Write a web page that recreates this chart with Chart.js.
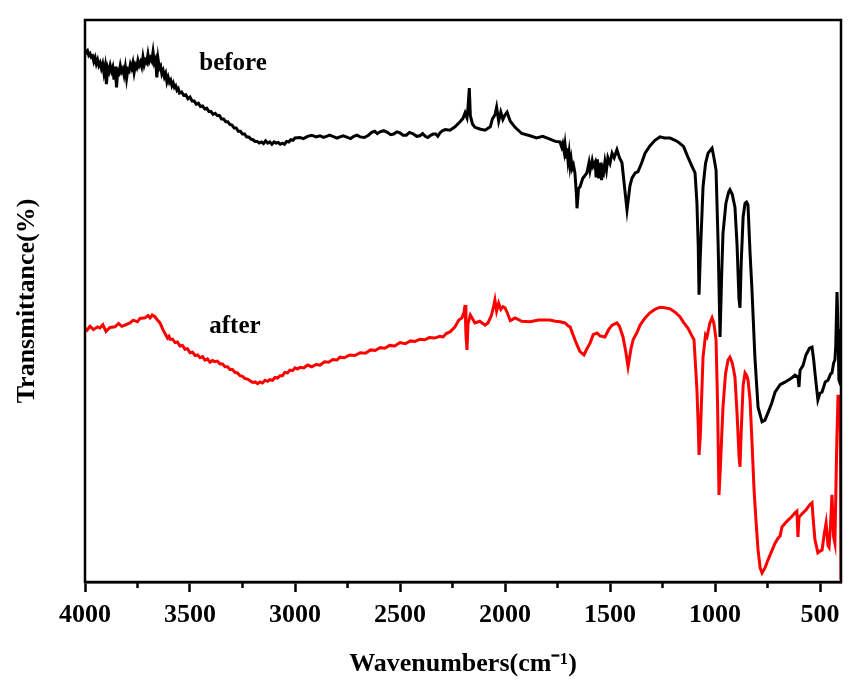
<!DOCTYPE html>
<html>
<head>
<meta charset="utf-8">
<script src="https://cdn.jsdelivr.net/npm/chart.js@4/dist/chart.umd.min.js"></script>
<style>
html,body{margin:0;padding:0;background:#fff;}
#c{display:block;}
</style>
</head>
<body>
<canvas id="c" width="856" height="684"></canvas>
<script>
// ---- data: [wavenumber (cm-1), transmittance (arbitrary % units)] ----
const beforeSpectrum = [
[4000,94.8],[3994,94.2],[3988,94.5],[3982,93.7],[3976,94.0],[3970,93.4],[3964,93.6],[3958,92.6],[3952,93.3],[3946,92.2],
[3940,92.9],[3934,91.9],[3928,92.4],[3922,91.4],[3916,92.2],[3910,90.6],[3904,91.8],[3898,88.6],[3892,91.5],[3886,90.8],
[3880,91.9],[3874,90.9],[3868,91.6],[3862,89.4],[3856,91.7],[3850,88.0],[3844,91.0],[3838,90.6],[3832,91.9],[3826,90.8],
[3820,91.3],[3814,90.2],[3808,91.6],[3802,89.6],[3796,91.2],[3790,90.9],[3784,92.1],[3778,91.4],[3772,92.4],[3766,90.7],
[3760,92.0],[3754,91.5],[3748,92.8],[3742,91.9],[3736,92.5],[3730,91.7],[3724,93.4],[3718,92.0],[3712,92.8],[3706,92.4],
[3700,93.9],[3694,92.6],[3688,93.2],[3682,92.7],[3676,94.3],[3670,92.4],[3664,93.0],[3658,89.8],[3652,93.0],[3646,91.4],
[3640,91.8],[3634,90.4],[3628,91.0],[3622,89.9],[3616,90.5],[3610,89.0],[3604,89.8],[3598,88.9],[3592,89.3],[3586,88.3],
[3580,88.8],[3574,88.0],[3568,88.3],[3562,87.5],[3556,87.8],[3550,87.0],[3540,87.2],[3530,86.6],[3520,86.7],[3510,86.0],
[3500,86.3],[3490,85.6],[3480,85.6],[3470,85.0],[3460,85.2],[3450,84.6],[3440,84.7],[3430,84.2],[3420,84.3],[3410,83.7],
[3400,83.7],[3390,83.2],[3380,83.4],[3370,83.0],[3360,83.0],[3350,82.4],[3340,82.4],[3330,81.9],[3320,81.9],[3310,81.4],
[3300,81.3],[3290,80.8],[3280,80.8],[3270,80.2],[3260,80.2],[3250,79.7],[3240,79.7],[3230,79.2],[3220,79.2],[3210,78.8],
[3200,78.7],[3190,78.4],[3180,78.4],[3170,78.1],[3160,78.3],[3150,78.0],[3140,78.5],[3130,78.1],[3120,78.3],[3110,77.9],
[3100,78.3],[3090,78.1],[3080,78.2],[3070,77.9],[3060,78.1],[3050,77.9],[3040,78.4],[3030,78.3],[3020,78.7],[3010,78.6],
[3000,79.0],[2976,79.1],[2960,78.9],[2940,79.3],[2920,79.5],[2900,79.2],[2881,79.4],[2865,79.1],[2850,79.3],[2835,79.5],
[2820,79.3],[2800,79.0],[2786,79.2],[2770,79.4],[2750,79.1],[2735,78.9],[2720,79.3],[2705,79.5],[2690,79.2],[2670,79.1],
[2650,79.5],[2635,80.0],[2620,80.2],[2608,79.8],[2595,80.1],[2578,80.3],[2560,80.0],[2545,79.6],[2530,79.7],[2515,80.1],
[2500,79.9],[2485,79.5],[2470,79.5],[2455,80.0],[2440,79.8],[2420,79.3],[2405,79.4],[2392,79.8],[2380,79.3],[2368,79.1],
[2357,79.4],[2343,79.7],[2330,79.7],[2320,79.3],[2310,79.9],[2298,80.3],[2285,80.5],[2262,80.4],[2238,81.0],[2214,81.9],
[2200,82.5],[2190,83.5],[2181,82.6],[2176,84.5],[2170,87.9],[2165,83.0],[2155,81.5],[2143,80.9],[2120,80.6],[2095,80.4],
[2070,81.0],[2060,82.4],[2048,83.1],[2040,84.5],[2030,82.0],[2020,83.6],[2010,82.3],[2000,83.1],[1990,83.6],[1975,82.0],
[1952,80.9],[1920,79.8],[1881,79.4],[1850,79.0],[1820,79.3],[1786,78.8],[1760,78.4],[1738,78.3],[1730,77.4],[1725,78.0],
[1718,76.5],[1714,77.8],[1708,75.6],[1705,77.2],[1700,75.0],[1695,76.4],[1690,74.0],[1685,75.2],[1680,73.6],[1674,74.2],
[1667,72.8],[1660,69.0],[1657,66.5],[1650,70.0],[1643,70.3],[1630,71.8],[1610,72.8],[1600,74.6],[1595,73.2],[1585,75.0],
[1580,74.0],[1571,74.7],[1566,72.0],[1560,75.2],[1554,71.8],[1548,74.6],[1540,71.5],[1535,73.6],[1530,73.0],[1524,74.8],
[1517,73.3],[1510,75.5],[1500,74.5],[1490,76.3],[1480,75.5],[1467,76.9],[1455,75.5],[1443,74.6],[1430,70.0],[1419,66.2],
[1405,70.5],[1395,71.9],[1380,72.8],[1367,73.0],[1350,74.5],[1333,76.3],[1310,77.6],[1286,78.6],[1262,79.2],[1240,79.0],
[1214,79.0],[1190,78.6],[1176,78.3],[1150,77.5],[1129,75.6],[1110,74.0],[1095,72.8],[1086,67.4],[1080,60.0],[1076,51.1],
[1070,58.0],[1057,70.3],[1045,74.5],[1033,76.3],[1014,77.2],[1005,75.5],[995,73.3],[985,60.0],[976,43.6],[968,55.0],
[962,62.0],[948,67.4],[935,69.4],[929,69.8],[918,69.0],[905,66.7],[895,60.0],[886,50.5],[881,48.8],[875,57.0],
[866,65.0],[857,67.4],[850,67.6],[843,67.1],[833,58.5],[824,52.0],[810,40.0],[795,31.1],[776,28.5],[762,28.8],
[748,30.1],[730,31.8],[714,33.8],[690,35.1],[665,35.6],[652,35.9],[635,36.3],[619,36.8],[605,36.5],[600,34.7],
[595,37.7],[581,38.5],[567,40.4],[550,41.6],[538,41.8],[530,39.5],[524,37.2],[510,32.4],[500,33.6],[490,33.8],
[475,35.6],[462,35.9],[450,37.0],[443,37.2],[435,39.0],[429,39.5],[425,42.0],[419,51.6],[414,45.0],[410,36.0],
[405,35.4],[400,35.0]
];

const afterSpectrum = [
[4000,45.2],[3990,44.8],[3976,45.5],[3960,44.9],[3940,45.4],[3929,45.2],[3915,45.8],[3900,44.6],[3881,45.3],[3857,45.4],
[3840,46.0],[3825,45.5],[3810,45.7],[3786,46.1],[3770,46.6],[3750,46.3],[3738,46.9],[3714,47.0],[3700,47.4],[3690,47.0],
[3680,47.5],[3667,47.2],[3655,46.6],[3643,46.1],[3630,45.0],[3619,44.2],[3607,43.4],[3600,43.7],[3595,43.2],[3583,43.2],
[3571,42.6],[3560,42.7],[3548,42.0],[3536,42.1],[3524,41.4],[3512,41.5],[3500,40.8],[3488,40.9],[3476,40.3],[3464,40.4],
[3452,39.9],[3440,40.1],[3429,39.5],[3417,39.7],[3405,39.1],[3393,39.4],[3381,39.2],[3369,39.3],[3357,38.8],[3345,38.8],
[3333,38.3],[3321,38.3],[3310,37.8],[3298,37.8],[3286,37.3],[3274,37.2],[3262,36.7],[3250,36.6],[3238,36.2],[3226,36.1],
[3214,35.8],[3202,35.5],[3190,35.6],[3178,35.3],[3167,35.6],[3155,35.4],[3143,35.9],[3131,35.7],[3119,36.0],[3107,35.9],
[3095,36.4],[3083,36.3],[3071,36.7],[3060,36.7],[3048,37.3],[3036,37.2],[3024,37.7],[3012,37.6],[3000,38.1],[2988,37.9],
[2976,38.2],[2958,38.1],[2940,38.6],[2920,38.3],[2900,38.7],[2881,38.6],[2860,39.2],[2840,39.1],[2820,39.6],[2800,39.5],
[2786,40.0],[2765,39.9],[2740,40.4],[2715,40.3],[2690,40.8],[2665,40.7],[2640,41.3],[2618,41.2],[2595,41.7],[2572,41.6],
[2550,42.1],[2525,42.0],[2500,42.6],[2475,42.4],[2450,42.9],[2428,42.8],[2405,43.2],[2382,43.1],[2360,43.5],[2335,43.4],
[2310,43.7],[2295,43.6],[2280,44.2],[2262,44.5],[2238,45.4],[2220,46.6],[2205,47.0],[2195,48.0],[2190,49.3],[2186,44.0],
[2181,41.3],[2176,46.0],[2165,47.5],[2143,46.1],[2120,46.4],[2095,45.7],[2081,46.1],[2065,47.4],[2055,48.9],[2048,50.2],
[2040,48.2],[2030,49.6],[2020,48.5],[2010,49.0],[2000,48.8],[1990,48.0],[1975,46.5],[1952,47.0],[1920,46.4],[1881,46.3],
[1840,46.6],[1786,46.6],[1760,46.4],[1738,46.3],[1714,46.1],[1700,45.6],[1690,45.4],[1667,43.1],[1657,42.2],[1643,41.0],
[1624,40.4],[1610,41.5],[1595,42.5],[1580,44.0],[1562,44.3],[1548,43.8],[1524,43.6],[1505,45.0],[1490,45.7],[1467,46.1],
[1455,45.5],[1438,43.6],[1425,41.0],[1414,38.3],[1400,41.5],[1390,43.1],[1370,44.5],[1357,45.7],[1333,47.0],[1310,47.9],
[1286,48.5],[1262,48.9],[1240,48.8],[1214,48.6],[1190,48.0],[1167,47.2],[1150,46.2],[1129,45.2],[1110,43.8],[1100,43.1],
[1086,34.2],[1080,28.0],[1076,22.6],[1070,26.0],[1057,40.0],[1045,44.0],[1038,43.6],[1025,46.0],[1014,47.0],[1005,46.0],
[995,43.1],[988,32.0],[981,15.5],[975,20.0],[962,31.1],[950,37.0],[938,39.5],[929,40.0],[918,39.0],[905,36.5],
[895,30.0],[885,22.0],[881,20.5],[875,27.0],[866,35.0],[857,37.2],[850,36.8],[843,36.0],[833,32.4],[824,25.0],
[814,16.4],[805,11.0],[795,5.7],[785,2.5],[776,1.6],[762,2.5],[748,3.9],[730,5.5],[714,6.9],[700,7.8],
[690,8.2],[681,9.8],[665,10.5],[652,11.0],[635,11.6],[619,12.3],[610,12.6],[605,8.0],[600,11.5],[581,12.3],
[567,12.8],[557,13.3],[548,13.8],[538,14.1],[532,11.0],[524,7.5],[510,5.2],[500,5.5],[490,5.7],[480,8.5],
[471,10.5],[462,6.5],[457,6.2],[450,10.0],[443,15.5],[435,8.0],[429,6.9],[420,25.0],[414,33.3],[410,32.0],
[405,33.3],[402,20.0],[400,0.4]
];

const xMajorTicks = [4000,3500,3000,2500,2000,1500,1000,500];
const xMinorTicks = [3750,3250,2750,2250,1750,1250,750];

const seriesNames = ['before','after'];
const labelX = [3295,3286];
const labelY = [92.3,45.4];

// ---- styles ----
const FONT = 'Liberation Serif, Times New Roman, serif';

const framePlugin = {
  id: 'frame',
  afterDraw(chart) {
    const {ctx, chartArea: a, scales} = chart;
    ctx.save();
    ctx.strokeStyle = '#000';
    ctx.lineWidth = 2.5;
    xMinorTicks.forEach(v => {
      const px = scales.x.getPixelForValue(v);
      ctx.beginPath();
      ctx.moveTo(px, a.bottom);
      ctx.lineTo(px, a.bottom + 6);
      ctx.stroke();
    });
    ctx.strokeRect(a.left, a.top, a.right - a.left, a.bottom - a.top);
    ctx.fillStyle = '#000';
    ctx.font = 'bold 25px ' + FONT;
    ctx.textAlign = 'center';
    ctx.textBaseline = 'middle';
    seriesNames.forEach((t, i) => {
      ctx.fillText(t, scales.x.getPixelForValue(labelX[i]), scales.y.getPixelForValue(labelY[i]));
    });
    ctx.restore();
  }
};

const toPoints = arr => arr.map(p => ({x: p[0], y: p[1]}));

new Chart(document.getElementById('c'), {
  type: 'line',
  data: {
    datasets: [
      {label: seriesNames[0], data: toPoints(beforeSpectrum), borderColor: '#000000', borderWidth: 3, pointRadius: 0, tension: 0, fill: false},
      {label: seriesNames[1], data: toPoints(afterSpectrum), borderColor: '#ff0000', borderWidth: 3, pointRadius: 0, tension: 0, fill: false}
    ]
  },
  options: {
    responsive: false,
    animation: false,
    devicePixelRatio: 1,
    layout: {padding: {left: 8, right: 15, top: 20, bottom: 4}},
    plugins: {legend: {display: false}, tooltip: {enabled: false}},
    scales: {
      x: {
        type: 'linear', reverse: true, min: 400, max: 4000,
        afterBuildTicks: s => { s.ticks = xMajorTicks.map(v => ({value: v})); },
        afterFit: s => { s.height = 684 - 582 - 4; },
        ticks: {font: {family: FONT, size: 26, weight: 'bold'}, color: '#000', padding: 8, maxRotation: 0, autoSkip: false, callback: v => String(v)},
        grid: {drawOnChartArea: false, tickLength: 10, tickWidth: 2.5, tickColor: '#000'},
        border: {display: true, color: '#000', width: 2.5},
        title: {display: true, text: 'Wavenumbers(cm⁻¹)', color: '#000', font: {family: FONT, size: 26, weight: 'bold'}, padding: {top: 0, bottom: 0}}
      },
      y: {
        min: 0, max: 100,
        afterFit: s => { s.width = 85 - 8; },
        ticks: {display: false},
        grid: {display: false},
        border: {display: false},
        title: {display: true, text: 'Transmittance(%)', color: '#000', font: {family: FONT, size: 26, weight: 'bold'}, padding: {top: 4, bottom: 4}}
      }
    }
  },
  plugins: [framePlugin]
});
</script>
</body>
</html>
